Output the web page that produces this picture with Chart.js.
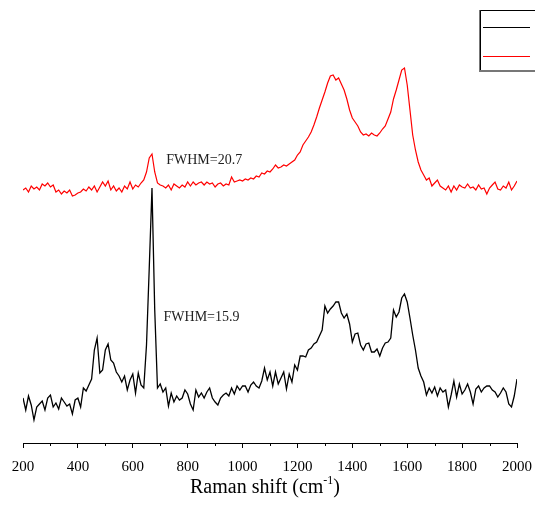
<!DOCTYPE html>
<html><head><meta charset="utf-8">
<script src="https://cdn.jsdelivr.net/npm/chart.js@4/dist/chart.umd.min.js"></script>
<style>html,body{margin:0;padding:0;background:#fff;}#wrap{width:535px;height:510px;position:relative}</style>
</head><body><div id="wrap"><canvas id="c" width="535" height="510"></canvas></div>
<script>
const shift = [200,210,220,230,240,250,260,270,280,290,300,310,320,330,340,350,360,370,380,390,
400,410,420,430,440,450,460,470,480,490,500,510,520,530,540,550,560,570,580,590,
600,610,620,630,640,650,660,670,680,690,700,710,720,730,740,750,760,770,780,790,
800,810,820,830,840,850,860,870,880,890,900,910,920,930,940,950,960,970,980,990,
1000,1010,1020,1030,1040,1050,1060,1070,1080,1090,1100,1110,1120,1130,1140,1150,1160,1170,1180,1190,
1200,1210,1220,1230,1240,1250,1260,1270,1280,1290,1300,1310,1320,1330,1340,1350,1360,1370,1380,1390,
1400,1410,1420,1430,1440,1450,1460,1470,1480,1490,1500,1510,1520,1530,1540,1550,1560,1570,1580,1590,
1600,1610,1620,1630,1640,1650,1660,1670,1680,1690,1700,1710,1720,1730,1740,1750,1760,1770,1780,1790,
1800,1810,1820,1830,1840,1850,1860,1870,1880,1890,1900,1910,1920,1930,1940,1950,1960,1970,1980,1990,2000];

const blackSpectrum = [45,33,47,38,23,36,39,42,33,45,48,36,40,34,45,41,37,39,29,43,
45,36,55,52,58,64,93,105,70,73,93,99,83,80,71,67,61,67,53,63,
69,50,70,58,55,98,175,255,133,55,59,51,55,37,50,41,47,43,45,53,
49,39,33,53,46,50,45,51,55,45,41,38,45,48,50,47,55,49,57,53,
57,57,51,58,61,57,55,62,75,63,71,57,71,59,65,71,54,69,61,78,
73,87,87,86,93,95,99,101,107,113,137,130,134,137,141,141,130,125,129,119,
101,109,110,98,93,99,100,91,91,94,87,95,100,101,105,133,126,131,145,149,
141,125,108,93,75,67,61,48,55,50,56,47,55,51,53,36,48,62,46,59,
49,53,59,51,39,54,57,51,55,57,57,53,51,46,50,55,51,39,36,47,64];

const redSpectrum = [253,255,251,257,254,256,253,259,257,260,256,258,251,253,249,252,250,253,247,248,
250,251,254,252,256,253,257,251,256,261,257,262,253,257,252,255,251,257,254,261,
254,258,256,260,263,271,285,289,271,260,258,257,255,258,253,259,257,255,258,256,
261,257,261,258,260,261,258,261,259,260,256,259,260,257,259,258,266,261,262,263,
262,264,263,265,264,267,266,270,269,272,271,274,278,275,276,278,277,279,281,283,
288,291,298,302,306,311,318,326,335,343,351,360,367,368,363,365,359,353,344,333,
325,321,317,311,308,309,307,310,308,307,310,314,317,324,331,344,353,363,373,375,
358,333,308,293,281,273,268,263,265,257,260,263,257,255,253,257,251,257,253,258,
256,255,259,255,256,253,258,254,255,249,255,258,261,254,253,257,255,261,253,257,262];

const xTicks = [200,400,600,800,1000,1200,1400,1600,1800,2000];
const minorTicks = [300,500,700,900,1100,1300,1500,1700,1900];
const seriesNames = ['Spectrum 1','Spectrum 2'];
const seriesColors = ['#000000','#ff0000'];
const notes = [
  {text:'FWHM=20.7', x:722, y:283},
  {text:'FWHM=15.9', x:712, y:126}
];
const xTitle = ['Raman shift (cm', '-1', ')'];

const serif = "'Liberation Serif','Times New Roman',serif";

const extras = {
  id: 'extras',
  afterDraw(chart) {
    const ctx = chart.ctx;
    const xs = chart.scales.x, ys = chart.scales.y;
    const ca = chart.chartArea;
    ctx.save();
    ctx.strokeStyle = '#000'; ctx.lineWidth = 1;
    minorTicks.forEach(v => {
      const px = Math.round(xs.getPixelForValue(v)) + 0.5;
      ctx.beginPath(); ctx.moveTo(px, ca.bottom); ctx.lineTo(px, ca.bottom + 3); ctx.stroke();
    });
    ctx.fillStyle = '#222';
    ctx.font = '14px ' + serif;
    ctx.textBaseline = 'middle'; ctx.textAlign = 'left';
    notes.forEach(n => ctx.fillText(n.text, xs.getPixelForValue(n.x), ys.getPixelForValue(n.y)));
    ctx.fillStyle = '#000';
    ctx.textBaseline = 'alphabetic';
    const mainFont = '20px ' + serif, supFont = '12px ' + serif;
    ctx.font = mainFont; const w1 = ctx.measureText(xTitle[0]).width, w3 = ctx.measureText(xTitle[2]).width;
    ctx.font = supFont; const w2 = ctx.measureText(xTitle[1]).width;
    const cx = (ca.left + ca.right) / 2 - 5;
    let tx = cx - (w1 + w2 + w3) / 2;
    const base = chart.height - 17;
    ctx.font = mainFont; ctx.fillText(xTitle[0], tx, base); tx += w1;
    ctx.font = supFont; ctx.fillText(xTitle[1], tx, base - 9); tx += w2;
    ctx.font = mainFont; ctx.fillText(xTitle[2], tx, base);
    const bx = 480, by = 10, bh = 60;
    ctx.fillStyle = '#777';
    ctx.fillRect(bx - 1, by, 2, bh + 1);
    ctx.fillRect(bx - 1, by + bh, 80, 2);
    ctx.strokeStyle = '#000'; ctx.lineWidth = 1;
    ctx.beginPath(); ctx.moveTo(bx + 0.5, by + bh); ctx.lineTo(bx + 0.5, by + 0.5); ctx.lineTo(540, by + 0.5); ctx.stroke();
    chart.data.datasets.forEach((ds, i) => {
      const ly = by + 17 + i * 29;
      ctx.strokeStyle = ds.borderColor; ctx.lineWidth = 1.2;
      ctx.beginPath(); ctx.moveTo(483, ly + 0.5); ctx.lineTo(530, ly + 0.5); ctx.stroke();
      ctx.fillStyle = '#000'; ctx.font = '13px ' + serif; ctx.textBaseline = 'middle';
      ctx.fillText(ds.label, 535, ly);
    });
    ctx.restore();
  }
};

new Chart(document.getElementById('c'), {
  type: 'line',
  data: {
    datasets: [
      { label: seriesNames[0], data: shift.map((x, i) => ({x, y: blackSpectrum[i]})), borderColor: seriesColors[0], borderWidth: 1.3, pointRadius: 0, tension: 0, fill: false },
      { label: seriesNames[1], data: shift.map((x, i) => ({x, y: redSpectrum[i]})), borderColor: seriesColors[1], borderWidth: 1.2, pointRadius: 0, tension: 0, fill: false }
    ]
  },
  options: {
    responsive: false,
    animation: false,
    layout: { padding: { left: 23, right: 18, top: 10, bottom: 0 } },
    plugins: { legend: { display: false }, tooltip: { enabled: false } },
    scales: {
      x: {
        type: 'linear', min: 200, max: 2000,
        afterBuildTicks: s => { s.ticks = xTicks.map(v => ({ value: v })); },
        afterFit: s => { s.height = 67; s.paddingLeft = 0; s.paddingRight = 0; },
        ticks: { font: { family: serif, size: 15 }, color: '#000', padding: 10, maxRotation: 0, autoSkip: false, callback: v => String(v) },
        grid: { drawOnChartArea: false, drawTicks: true, tickLength: 5, color: '#000', lineWidth: 1 },
        border: { display: true, color: '#000', width: 1 }
      },
      y: { display: false, min: 0, max: 433 }
    }
  },
  plugins: [extras]
});
</script></body></html>
